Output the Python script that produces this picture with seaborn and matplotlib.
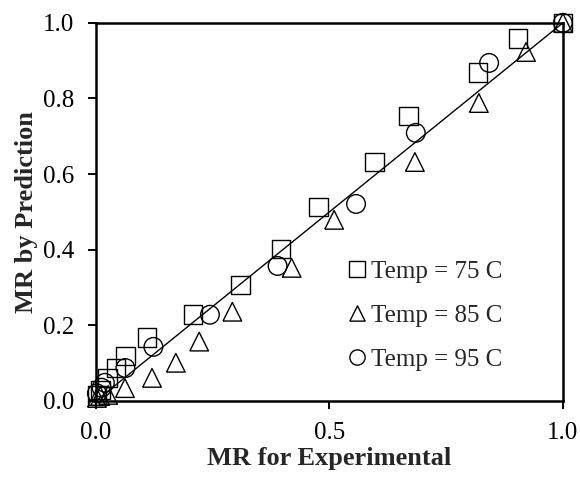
import pandas as pd
import matplotlib.pyplot as plt
import seaborn as sns
from matplotlib.lines import Line2D

# MR values
exp_75 = [0.002, 0.009, 0.024, 0.043, 0.063, 0.109, 0.208, 0.310, 0.396, 0.477, 0.597, 0.670, 0.818, 0.904, 1.0]
pred_75 = [0.015, 0.029, 0.061, 0.087, 0.119, 0.167, 0.228, 0.307, 0.402, 0.513, 0.632, 0.754, 0.868, 0.958, 1.0]

exp_85 = [0.002, 0.009, 0.026, 0.062, 0.120, 0.171, 0.221, 0.292, 0.419, 0.510, 0.683, 0.820, 0.921, 1.0]
pred_85 = [0.008, 0.013, 0.016, 0.034, 0.061, 0.101, 0.157, 0.236, 0.352, 0.479, 0.632, 0.788, 0.923, 1.0]

exp_95 = [0.002, 0.012, 0.019, 0.063, 0.123, 0.244, 0.389, 0.557, 0.685, 0.842, 1.0]
pred_95 = [0.020, 0.035, 0.048, 0.087, 0.143, 0.228, 0.357, 0.521, 0.709, 0.894, 1.0]

labels = ["Temp = 75 C", "Temp = 85 C", "Temp = 95 C"]
x_ticks = [0.0, 0.5, 1.0]
y_ticks = [0.0, 0.2, 0.4, 0.6, 0.8, 1.0]

triangle = [(-1, -1), (1, -1), (0, 1), (-1, -1)]
marker_map = {labels[0]: "s", labels[1]: triangle, labels[2]: "o"}

df = pd.concat([
    pd.DataFrame({"exp": exp_75, "pred": pred_75, "temp": labels[0]}),
    pd.DataFrame({"exp": exp_85, "pred": pred_85, "temp": labels[1]}),
    pd.DataFrame({"exp": exp_95, "pred": pred_95, "temp": labels[2]}),
])

sns.set_style("white")
plt.rcParams["font.family"] = ["Liberation Serif", "DejaVu Serif"]

fig = plt.figure(figsize=(5.8, 4.86), dpi=100)
ax = fig.add_axes([0.1655, 0.175, 0.805, 0.778])

# 1:1 line
ax.plot([0, 1], [0, 1], color="black", lw=1.0, zorder=2)

sns.scatterplot(data=df, x="exp", y="pred", style="temp", markers=marker_map,
                s=180, color="black", edgecolor="black", facecolor="none",
                linewidth=1.0, legend=False, clip_on=False, zorder=3, ax=ax)
for coll in ax.collections:
    coll.set_facecolor("none")
    coll.set_edgecolor("black")

ax.set_xlim(0, 1)
ax.set_ylim(0, 1)
ax.set_xticks(x_ticks)
ax.set_yticks(y_ticks)
ax.set_xticklabels([f"{v:.1f}" for v in x_ticks])
ax.set_yticklabels([f"{v:.1f}" for v in y_ticks])

for sp in ax.spines.values():
    sp.set_visible(True)
    sp.set_color("black")
    sp.set_linewidth(1.8)

ax.tick_params(axis="both", direction="out", length=6, width=1.4, labelsize=18,
               colors="black", left=True, bottom=True)
ax.tick_params(axis="x", pad=9)
ax.tick_params(axis="y", pad=10)

ax.set_xlabel("MR for Experimental", fontsize=19, fontweight="bold", labelpad=2)
ax.set_ylabel("MR by Prediction", fontsize=19, fontweight="bold", labelpad=3)

handles = [
    Line2D([], [], ls="none", marker=marker_map[lab], markersize=11,
           mfc="none", mec="black", mew=1.0)
    for lab in labels
]
ax.legend(handles, labels, loc="upper left", bbox_to_anchor=(0.506, 0.404),
          frameon=False, fontsize=18, borderpad=0, handlelength=1.0,
          handletextpad=0.05, labelspacing=0.86)

plt.savefig("out.png", dpi=100)
plt.close()
